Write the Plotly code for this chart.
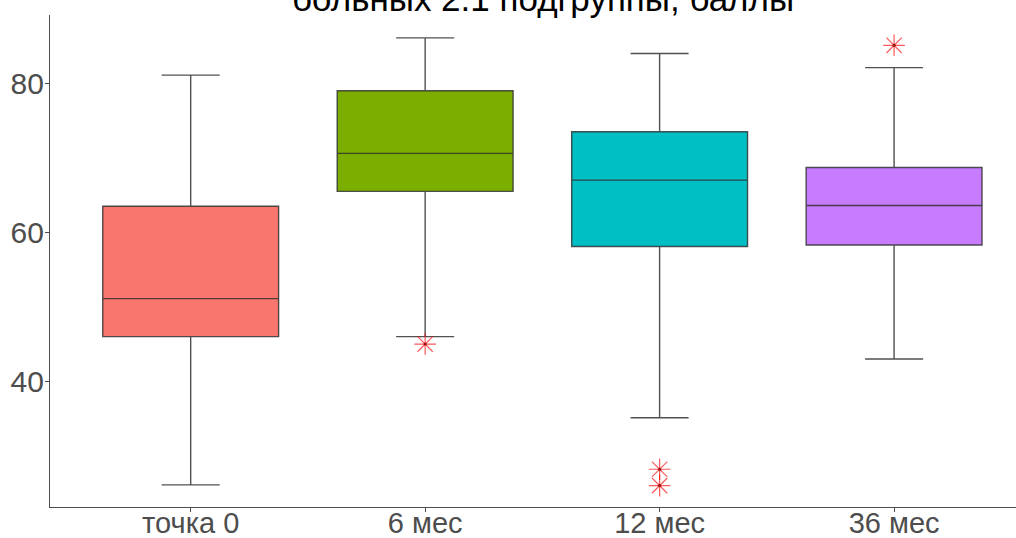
import plotly.graph_objects as go

# Summary statistics per time point (score, points)
groups = ["точка 0", "6 мес", "12 мес", "36 мес"]
lower_whisker = [26.1, 46.0, 35.1, 43.0]
q1 = [46.0, 65.5, 58.1, 58.3]
median = [51.1, 70.6, 67.0, 63.6]
q3 = [63.5, 79.0, 73.5, 68.7]
upper_whisker = [81.1, 86.1, 84.0, 82.1]
fill_colors = ["#F8766D", "#7CAE00", "#00BFC4", "#C77CFF"]

# Outliers beyond the whiskers
outlier_groups = ["6 мес", "12 мес", "12 мес", "36 мес"]
outlier_values = [45.0, 28.2, 26.0, 85.1]

title_text = "больных 2.1 подгруппы, баллы"

fig = go.Figure()

for i, g in enumerate(groups):
    fig.add_trace(go.Box(
        x=[g],
        q1=[q1[i]], median=[median[i]], q3=[q3[i]],
        lowerfence=[lower_whisker[i]], upperfence=[upper_whisker[i]],
        fillcolor=fill_colors[i],
        line=dict(color="rgba(50,50,50,0.85)", width=1.4),
        width=0.75,
        whiskerwidth=0.33,
        boxpoints=False,
        showlegend=False,
        hoverinfo="skip",
    ))

fig.add_trace(go.Scatter(
    x=outlier_groups, y=outlier_values, mode="markers",
    marker=dict(symbol="asterisk-open", size=18, color="rgba(255,0,0,0.65)",
                line=dict(color="rgba(255,0,0,0.65)", width=1.2)),
    showlegend=False, hoverinfo="skip",
))
fig.add_trace(go.Scatter(
    x=outlier_groups, y=outlier_values, mode="markers",
    marker=dict(symbol="circle", size=3, color="rgba(120,0,0,0.8)"),
    showlegend=False, hoverinfo="skip",
))

fig.add_annotation(
    text=title_text, xref="paper", yref="paper",
    x=0.51, y=1.0, yanchor="bottom", xanchor="center",
    yshift=-5, showarrow=False,
    font=dict(family="Liberation Sans, Arial, sans-serif", size=35, color="black"),
)

fig.update_layout(
    width=1016, height=538,
    margin=dict(l=50, r=0, t=15, b=31),
    paper_bgcolor="white", plot_bgcolor="white",
    boxmode="overlay",
    font=dict(family="Liberation Sans, Arial, sans-serif", color="#4D4D4D"),
    xaxis=dict(
        type="category", categoryorder="array", categoryarray=groups,
        range=[-0.6, 3.52], showgrid=False, zeroline=False, automargin=False,
        showline=True, linecolor="#4D4D4D", linewidth=1.3,
        ticks="outside", ticklen=4, tickcolor="#4D4D4D",
        ticklabelstandoff=-14,
        tickfont=dict(size=29, color="#4D4D4D"),
    ),
    yaxis=dict(
        range=[23.13, 89.17], tickvals=[40, 60, 80],
        showgrid=False, zeroline=False, automargin=False,
        showline=True, linecolor="#4D4D4D", linewidth=1.3,
        ticks="outside", ticklen=4, tickcolor="#4D4D4D",
        ticklabelstandoff=-5,
        tickfont=dict(size=30, color="#4D4D4D"),
    ),
)

fig.write_html("out.html")
